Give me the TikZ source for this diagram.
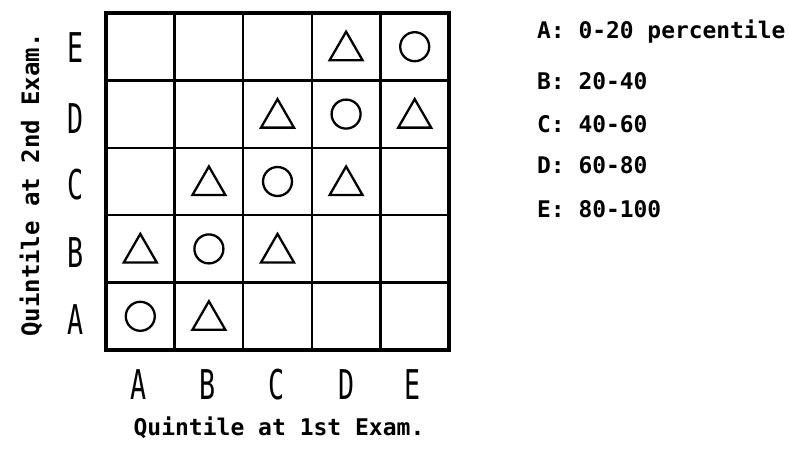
\documentclass[tikz,border=0pt]{standalone}
\usepackage{fontspec}
\setmonofont{DejaVu Sans Mono}
\usetikzlibrary{shapes.geometric, positioning}

\begin{document}
\begin{tikzpicture}[
    x=1pt, y=-1pt,
    cellline/.style={line width=2.4pt},
    frame/.style={line width=3.6pt},
    tri/.style={regular polygon, regular polygon sides=3, draw, line width=2.3pt, minimum size=38pt, inner sep=0pt, yshift=-4pt},
    ring/.style={circle, draw, line width=2.3pt, minimum size=29pt, inner sep=0pt},
    grade/.style={font=\ttfamily\fontsize{41}{41}\selectfont, xscale=0.65, inner sep=0pt},
    caption/.style={font=\ttfamily\bfseries\fontsize{23}{27}\selectfont, inner sep=0pt},
    legend/.style={font=\ttfamily\bfseries\fontsize{22.9}{27}\selectfont, anchor=base west, inner sep=0pt}
]
\useasboundingbox (0,0) rectangle (789,452);

\begin{scope}[shift={(106,350)}, x=68.6pt, y=67.4pt]
% table
\draw[cellline] (0,0) grid[step=1] (5,5);
\draw[frame] (0,0) rectangle (5,5);

% row E
\node[tri]  (cD-rE) at (3.5,4.5) {};
\node[ring] (cE-rE) at (4.5,4.5) {};
% row D
\node[tri]  (cC-rD) at (2.5,3.5) {};
\node[ring] (cD-rD) at (3.5,3.5) {};
\node[tri]  (cE-rD) at (4.5,3.5) {};
% row C
\node[tri]  (cB-rC) at (1.5,2.5) {};
\node[ring] (cC-rC) at (2.5,2.5) {};
\node[tri]  (cD-rC) at (3.5,2.5) {};
% row B
\node[tri]  (cA-rB) at (0.5,1.5) {};
\node[ring] (cB-rB) at (1.5,1.5) {};
\node[tri]  (cC-rB) at (2.5,1.5) {};
% row A
\node[ring] (cA-rA) at (0.5,0.5) {};
\node[tri]  (cB-rA) at (1.5,0.5) {};

% quintiles, 2nd exam
\node[grade] (rowE) at (-0.45,4.48) {E};
\node[grade] (rowD) at (-0.45,3.44) {D};
\node[grade] (rowC) at (-0.45,2.45) {C};
\node[grade] (rowB) at (-0.45,1.44) {B};
\node[grade] (rowA) at (-0.45,0.45) {A};

% quintiles, 1st exam
\node[grade] (colA) at (0.47,-0.52) {A};
\node[grade] (colB) at (1.48,-0.52) {B};
\node[grade] (colC) at (2.48,-0.52) {C};
\node[grade] (colD) at (3.5,-0.52) {D};
\node[grade] (colE) at (4.47,-0.52) {E};
\end{scope}

\node[caption] (xtitle) at (279,428) {Quintile at 1st Exam.};
\node[caption, font=\ttfamily\bfseries\fontsize{24}{27}\selectfont, rotate=90] (ytitle) at (31,185) {Quintile at 2nd Exam.};

% legend
\node[legend] (legA) at (537,38) {A: 0-20 percentile};
\node[legend] (legB) at (537,89) {B: 20-40};
\node[legend] (legC) at (537,132) {C: 40-60};
\node[legend] (legD) at (537,173) {D: 60-80};
\node[legend] (legE) at (537,217) {E: 80-100};
\end{tikzpicture}
\end{document}
